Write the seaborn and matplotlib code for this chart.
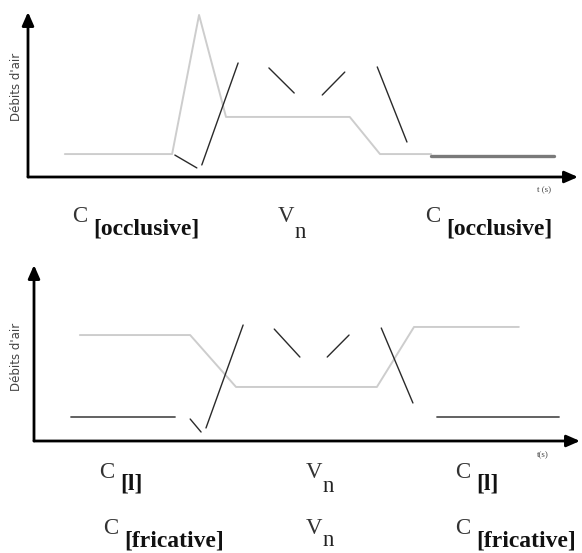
import pandas as pd
import seaborn as sns
import matplotlib
matplotlib.use("Agg")
import matplotlib.pyplot as plt

# ---- data (t in % of the time axis, flow in % of the flow axis) ----
# top panel : C[occlusive] V_n C[occlusive]
top_gray_t = [6.7, 26.2, 31.1, 36.0, 58.5, 64.0, 73.3]
top_gray_f = [13.9, 13.9, 98.2, 36.4, 36.4, 13.9, 13.9]
top_thick_t = [73.3, 95.6]
top_thick_f = [12.7, 12.7]
top_dark_segs = [
    ([26.7, 30.7], [13.3, 5.5]),
    ([31.6, 38.2], [7.3, 69.1]),
    ([43.8, 48.4], [66.1, 50.9]),
    ([53.5, 57.6], [49.7, 63.6]),
    ([63.5, 68.9], [66.7, 21.2]),
]

# bottom panel : C[l] V_n C[l]  /  C[fricative] V_n C[fricative]
bot_gray_t = [8.4, 28.6, 37.0, 62.8, 69.6, 88.8]
bot_gray_f = [60.2, 60.2, 30.7, 30.7, 64.8, 64.8]
bot_flat_segs = [
    ([6.8, 25.8], [13.6, 13.6]),
    ([73.8, 96.2], [13.6, 13.6]),
]
bot_dark_segs = [
    ([28.6, 30.6], [12.5, 5.1]),
    ([31.5, 38.3], [7.4, 65.9]),
    ([44.0, 48.7], [63.6, 47.7]),
    ([53.7, 57.7], [47.7, 60.2]),
    ([63.6, 69.4], [64.2, 21.6]),
]

y_label = "Débits d'air"
top_labels = [("C", "[occlusive]"), ("V", "n"), ("C", "[occlusive]")]
bot_labels1 = [("C", "[l]"), ("V", "n"), ("C", "[l]")]
bot_labels2 = [("C", "[fricative]"), ("V", "n"), ("C", "[fricative]")]

W, H = 582, 553
sns.set_style("white")
plt.rcParams["font.family"] = ["Liberation Serif", "DejaVu Serif"]

fig = plt.figure(figsize=(W / 100, H / 100), dpi=100)


def px_axes(x0, y0, x1, y1):
    # axes from pixel box (top-left origin)
    return fig.add_axes([x0 / W, 1 - y1 / H, (x1 - x0) / W, (y1 - y0) / H])


def seg(ax, t, f, color, lw):
    d = pd.DataFrame({"t": t, "f": f})
    sns.lineplot(data=d, x="t", y="f", sort=False, estimator=None,
                 color=color, lw=lw, ax=ax)


def arrows(ax):
    for s in ax.spines.values():
        s.set_visible(False)
    ax.set_xticks([])
    ax.set_yticks([])
    ax.set_xlabel("")
    ax.set_ylabel("")
    ax.set_xlim(0, 100)
    ax.set_ylim(0, 100)
    kw = dict(arrowstyle="-|>,head_length=0.8,head_width=0.35", lw=2,
              color="black", shrinkA=0, shrinkB=0)
    ax.annotate("", xy=(1, 0), xytext=(0, 0), xycoords="axes fraction",
                arrowprops=kw, annotation_clip=False)
    ax.annotate("", xy=(0, 1), xytext=(0, 0), xycoords="axes fraction",
                arrowprops=kw, annotation_clip=False)


ax1 = px_axes(28, 12, 578, 177)
seg(ax1, top_gray_t, top_gray_f, "#cdcdcd", 1.4)
seg(ax1, top_thick_t, top_thick_f, "#7a7a7a", 2.4)
for t, f in top_dark_segs:
    seg(ax1, t, f, "#2a2a2a", 1.0)
arrows(ax1)

ax2 = px_axes(34, 265, 580, 441)
seg(ax2, bot_gray_t, bot_gray_f, "#cdcdcd", 1.4)
for t, f in bot_flat_segs:
    seg(ax2, t, f, "#555555", 1.3)
for t, f in bot_dark_segs:
    seg(ax2, t, f, "#2a2a2a", 1.0)
arrows(ax2)


def ptext(x, y, s, **kw):
    fig.text(x / W, 1 - y / H, s, va="center", ha="left", **kw)


def label_row(labels, xs, y, n_drop=15):
    for (big, sub), x in zip(labels, xs):
        ptext(x, y, big, fontsize=16.5, color="#333333")
        if big == "V":
            ptext(x + 17, y + n_drop, sub, fontsize=16.5, color="#222222")
        else:
            ptext(x + 21, y + 12, sub, fontsize=17, color="#111111",
                  fontweight="bold")


label_row(top_labels, [72, 278, 425], 217)
label_row(bot_labels1, [99, 306, 455], 472)
label_row(bot_labels2, [103, 306, 455], 529, n_drop=12)

for yy, lab in [(190, "t (s)"), (455, "t(s)")]:
    ptext(537, yy, lab, fontsize=6.5, color="#444444")

for yy in [87, 357]:
    fig.text(17 / W, 1 - yy / H, y_label, rotation=90, va="center",
             ha="center", fontsize=8.5, color="#444444",
             family="DejaVu Sans")

fig.savefig("out.png", dpi=100)
